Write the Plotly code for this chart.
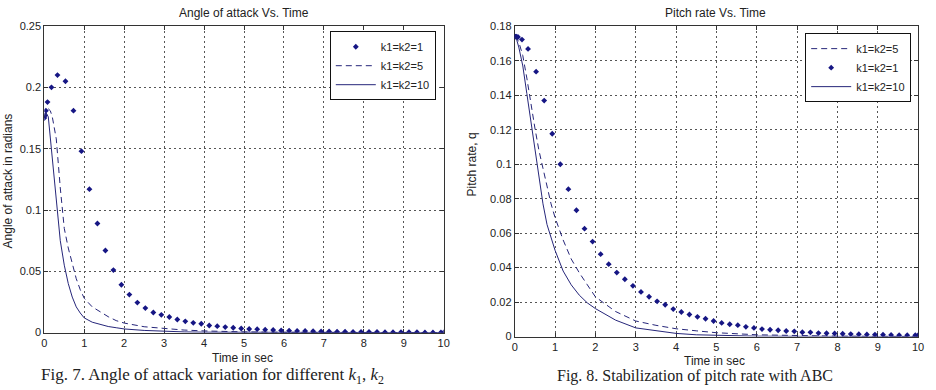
import plotly.graph_objects as go

# ---------------- data ----------------
T_DOTS = [0, 0.02, 0.04, 0.08, 0.18,
          0.33, 0.53, 0.73, 0.93, 1.13, 1.33, 1.53, 1.73, 1.93, 2.13,
          2.33, 2.53, 2.73, 2.93, 3.13, 3.33, 3.53, 3.73, 3.93, 4.13,
          4.33, 4.53, 4.73, 4.93, 5.13, 5.33, 5.53, 5.73, 5.93, 6.13,
          6.33, 6.53, 6.73, 6.93, 7.13, 7.33, 7.53, 7.73, 7.93, 8.13,
          8.33, 8.53, 8.73, 8.93, 9.13, 9.33, 9.53, 9.73, 9.93, 10.0]

T_LINES = [0, 0.05, 0.1, 0.15, 0.2, 0.3, 0.4, 0.5, 0.6, 0.7, 0.8, 0.9, 1.0,
           1.2, 1.4, 1.6, 1.8, 2.0, 2.5, 3.0, 3.5, 4.0, 4.5, 5.0,
           6.0, 7.0, 8.0, 9.0, 10.0]

# Angle of attack (left panel)
alpha_k1 = [0.175, 0.177, 0.181, 0.188, 0.200,
            0.210, 0.205, 0.181, 0.148, 0.117, 0.089, 0.067, 0.051, 0.039, 0.031,
            0.0245, 0.020, 0.0164, 0.0145, 0.0127, 0.0107, 0.0092, 0.0080, 0.0072, 0.0058,
            0.0053, 0.0045, 0.0040, 0.0034, 0.0030, 0.0028, 0.0024, 0.0021, 0.0018, 0.0016,
            0.0014, 0.0013, 0.0011, 0.0010, 0.0009, 0.0008, 0.0007, 0.0006, 0.0006, 0.0005,
            0.0005, 0.0004, 0.0004, 0.0003, 0.0003, 0.0003, 0.0002, 0.0002, 0.0002, 0.0002]
alpha_k5 = [0.175, 0.180, 0.1825, 0.181, 0.176, 0.158, 0.118, 0.085, 0.069, 0.056, 0.044, 0.035, 0.028,
            0.021, 0.017, 0.013, 0.0098, 0.0078, 0.0048, 0.0032, 0.0021, 0.0014, 0.0009, 0.0006,
            0.0003, 0.0002, 0.0001, 0.0001, 0.0]
alpha_k10 = [0.175, 0.179, 0.176, 0.160, 0.142, 0.110, 0.075, 0.055, 0.040, 0.029, 0.021, 0.016, 0.012,
             0.0085, 0.0065, 0.005, 0.004, 0.003, 0.0018, 0.001, 0.0006, 0.0004, 0.0003, 0.0002,
             0.0001, 0.0001, 0.0, 0.0, 0.0]

# Pitch rate (right panel)
q_k1 = [0.174, 0.174, 0.174, 0.1738, 0.1723,
        0.1669, 0.1537, 0.1369, 0.1177, 0.100, 0.0855, 0.0733, 0.0626, 0.0551, 0.0478,
        0.042, 0.0371, 0.0332, 0.0294, 0.0259, 0.0231, 0.0204, 0.0184, 0.0159, 0.0142,
        0.0128, 0.0114, 0.0103, 0.009, 0.0079, 0.0071, 0.0066, 0.0056, 0.005, 0.0043,
        0.0039, 0.0036, 0.0032, 0.003, 0.0025, 0.0024, 0.002, 0.0019, 0.0018, 0.0016,
        0.0014, 0.0013, 0.0012, 0.0011, 0.001, 0.0009, 0.0008, 0.0008, 0.0007, 0.0007]
q_k5 = [0.174, 0.173, 0.171, 0.167, 0.163, 0.150, 0.135, 0.121, 0.108, 0.097, 0.087, 0.077, 0.069,
        0.056, 0.045, 0.037, 0.030, 0.023, 0.0145, 0.009, 0.0065, 0.0045, 0.0033, 0.0022,
        0.001, 0.0005, 0.0002, 0.0001, 0.0]
q_k10 = [0.174, 0.172, 0.168, 0.163, 0.157, 0.141, 0.125, 0.108, 0.092, 0.077, 0.065, 0.057, 0.050,
         0.038, 0.030, 0.024, 0.0195, 0.0162, 0.0095, 0.005, 0.0035, 0.0018, 0.001, 0.0006,
         0.0002, 0.0001, 0.0001, 0.0, 0.0]

X_TICKS = [0, 1, 2, 3, 4, 5, 6, 7, 8, 9, 10]
Y1_TICKS = [0, 0.05, 0.1, 0.15, 0.2, 0.25]
Y1_LABELS = ["0", "0.05", "0.1", "0.15", "0.2", "0.25"]
Y2_TICKS = [0, 0.02, 0.04, 0.06, 0.08, 0.1, 0.12, 0.14, 0.16, 0.18]
Y2_LABELS = ["0", "0.02", "0.04", "0.06", "0.08", "0.1", "0.12", "0.14", "0.16", "0.18"]

# ---------------- styling ----------------
W, H = 936, 390
BLUE = "#161684"
LINE = "#26267a"
FONT = "Liberation Sans, Arial, sans-serif"
SERIF = "Liberation Serif, Times New Roman, serif"

def px_x(p):
    return p / W

def px_y(p):
    return 1 - p / H

fig = go.Figure()

# left panel
fig.add_trace(go.Scatter(x=T_DOTS, y=alpha_k1, mode="markers", name="k1=k2=1",
                         marker=dict(symbol="diamond", size=4.5, color=BLUE),
                         xaxis="x", yaxis="y", legend="legend"))
fig.add_trace(go.Scatter(x=T_LINES, y=alpha_k5, mode="lines", name="k1=k2=5",
                         line=dict(color=LINE, width=1, dash="6px,4px"),
                         xaxis="x", yaxis="y", legend="legend"))
fig.add_trace(go.Scatter(x=T_LINES, y=alpha_k10, mode="lines", name="k1=k2=10",
                         line=dict(color=LINE, width=1),
                         xaxis="x", yaxis="y", legend="legend"))

# right panel
fig.add_trace(go.Scatter(x=T_LINES, y=q_k5, mode="lines", name="k1=k2=5",
                         line=dict(color=LINE, width=1, dash="6px,4px"),
                         xaxis="x2", yaxis="y2", legend="legend2"))
fig.add_trace(go.Scatter(x=T_DOTS, y=q_k1, mode="markers", name="k1=k2=1",
                         marker=dict(symbol="diamond", size=4.5, color=BLUE),
                         xaxis="x2", yaxis="y2", legend="legend2"))
fig.add_trace(go.Scatter(x=T_LINES, y=q_k10, mode="lines", name="k1=k2=10",
                         line=dict(color=LINE, width=1),
                         xaxis="x2", yaxis="y2", legend="legend2"))

axis_common = dict(showline=True, linecolor="#333", linewidth=1, mirror="ticks",
                   ticks="inside", ticklen=4, tickcolor="#333",
                   showgrid=True, gridcolor="#555", gridwidth=1, griddash="2px,3px",
                   zeroline=False, layer="below traces",
                   tickfont=dict(family=FONT, size=11, color="#222"))

legend_common = dict(bgcolor="white", bordercolor="#111", borderwidth=1,
                     font=dict(family=FONT, size=11, color="#222"),
                     itemwidth=40, tracegroupgap=0, xanchor="right", yanchor="top")

fig.update_layout(
    width=W, height=H, margin=dict(l=0, r=0, t=0, b=0),
    paper_bgcolor="white", plot_bgcolor="white",
    font=dict(family=FONT, size=12, color="#222"),
    xaxis=dict(domain=[px_x(41.7), px_x(445)], range=[0, 10], tickvals=X_TICKS,
               anchor="y", **axis_common),
    yaxis=dict(domain=[px_y(337), px_y(20.7)], range=[0, 0.25], tickvals=Y1_TICKS,
               ticktext=Y1_LABELS, anchor="x", **axis_common),
    xaxis2=dict(domain=[px_x(516.7), px_x(924)], range=[0, 10], tickvals=X_TICKS,
                anchor="y2", **axis_common),
    yaxis2=dict(domain=[px_y(341), px_y(21)], range=[0, 0.18], tickvals=Y2_TICKS,
                ticktext=Y2_LABELS, anchor="x2", **axis_common),
    legend=dict(x=px_x(437), y=px_y(26), **legend_common),
    legend2=dict(x=px_x(917), y=px_y(28), **legend_common),
    showlegend=True,
)

def ann(text, x, y, size=12, family=FONT, angle=0):
    fig.add_annotation(text=text, x=px_x(x), y=px_y(y), xref="paper", yref="paper",
                       showarrow=False, textangle=angle, xanchor="center", yanchor="middle",
                       font=dict(family=family, size=size, color="#222"))

ann("Angle of attack Vs. Time", 243, 7)
ann("Pitch rate Vs. Time", 719, 7)
ann("Time in sec", 242, 363)
ann("Time in sec", 718, 366)
ann("Angle of attack in radians", 6, 180, angle=-90)
ann("Pitch rate, q", 474, 163, angle=-90)
ann("Fig. 7. Angle of attack variation for different <i>k</i><sub>1</sub>, <i>k</i><sub>2</sub>",
    212, 382, size=17, family=SERIF)
ann("Fig. 8. Stabilization of pitch rate with ABC", 699, 382, size=16, family=SERIF)

fig.write_html("out.html")
